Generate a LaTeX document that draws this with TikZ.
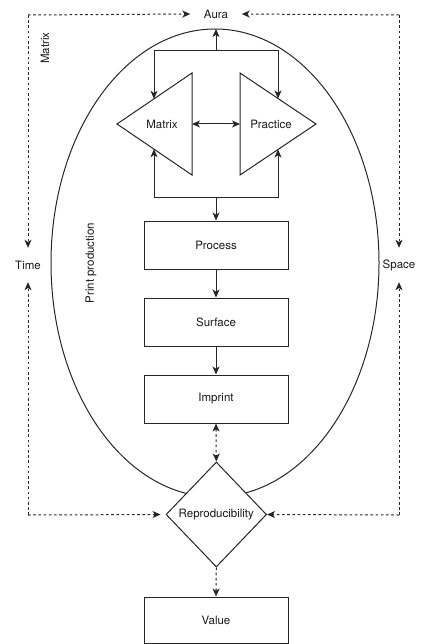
\documentclass[tikz,border=0pt]{standalone}
\usepackage{fontspec}
\setmainfont{TeX Gyre Heros}
\usetikzlibrary{shapes.geometric,arrows.meta}
\begin{document}
\begin{tikzpicture}[x=1pt,y=-1pt,
  every node/.style={font=\fontsize{11.5}{13}\selectfont, text=black!90},
  ln/.style={draw=black!85, line width=1pt},
  tip/.tip={Stealth[length=8pt,width=7pt,inset=2.2pt]},
  arr/.style={ln,-tip},
  darr/.style={ln,tip-tip},
  dsh/.style={dash pattern=on 2.6pt off 2.6pt},
  box/.style={rectangle, draw=black!85, line width=1pt, fill=white, minimum width=144pt, minimum height=48pt, inner sep=0pt},
  lbl/.style={inner sep=0pt}
]
\useasboundingbox (0,0) rectangle (422,644);

% ellipse (Print production)
\draw[ln] (215,263) ellipse [x radius=164, y radius=234];
\coordinate (etop) at (216,29);

% triangles
\coordinate (mL) at (117,124);
\coordinate (mT) at (192,73);
\coordinate (mB) at (192,175);
\coordinate (pR) at (316,124);
\coordinate (pT) at (240,73);
\coordinate (pB) at (240,175);
\draw[ln, fill=white] (mL) -- (mT) -- (mB) -- cycle;
\draw[ln, fill=white] (pR) -- (pT) -- (pB) -- cycle;
\node (matrix) at (162,124) {Matrix};
\node (practice) at (271,124) {Practice};
\coordinate (mEast) at (192,124);
\coordinate (pWest) at (240,124);

% boxes
\node[box] (process) at (216,245) {Process};
\node[box] (surface) at (216,322) {Surface};
\node[box] (imprint) at (216,399) {Imprint};
\node[box, minimum height=46pt] (value) at (216,620) {Value};

% diamond
\node[diamond, draw=black!85, line width=1pt, fill=white, inner sep=0pt,
      minimum width=100.5pt, minimum height=105pt] (repro) at (216.3,514.5) {Reproducibility};

% outer labels
\node[lbl, minimum width=51pt, minimum height=14pt] (aura) at (216,14) {Aura};
\node[lbl, minimum height=34pt] (time) at (28,265) {Time};
\node[lbl, minimum height=34pt] (space) at (399,265) {Space};
\node[rotate=90] (matrixlbl) at (45,48) {Matrix};
\node[rotate=90] (printlbl) at (91,263) {Print production};

% solid connectors
\coordinate (jt) at (216,51);
\coordinate (jb) at (216,198);
\coordinate (mTh) at (154,98.8);
\coordinate (pTh) at (278,98.5);
\coordinate (mBh) at (154,149.2);
\coordinate (pBh) at (278,149.5);
\draw[arr] (jt) -- (etop);
\draw[arr] (jt) -| (mTh);
\draw[arr] (jt) -| (pTh);
\draw[arr] (jb) -| (mBh);
\draw[arr] (jb) -| (pBh);
\draw[arr] (jb) -- (process.north);
\draw[darr] (mEast) -- (pWest);
\draw[arr] (process) -- (surface);
\draw[arr] (surface) -- (imprint);

% dashed connectors
\coordinate (cTL) at (28,15);
\coordinate (cTR) at (399,15);
\coordinate (cBL) at (28,515);
\coordinate (cBR) at (399,515);
\draw[arr, dsh] (cTL) -- (aura.west);
\draw[arr, dsh] (cTR) -- (aura.east);
\draw[arr, dsh] (cTL) -- (time.north);
\draw[arr, dsh] (cTR) -- (space.north);
\draw[arr, dsh] (cBL) -- (time.south);
\draw[arr, dsh] (cBR) -- (space.south);
\draw[arr, dsh, shorten >=5pt] (cBL) -- (repro.west);
\draw[arr, dsh] (cBR) -- (repro.east);
\draw[darr, dsh] (imprint.south) -- (repro.north);
\draw[arr, dsh] (repro.south) -- (value.north);
\end{tikzpicture}
\end{document}
